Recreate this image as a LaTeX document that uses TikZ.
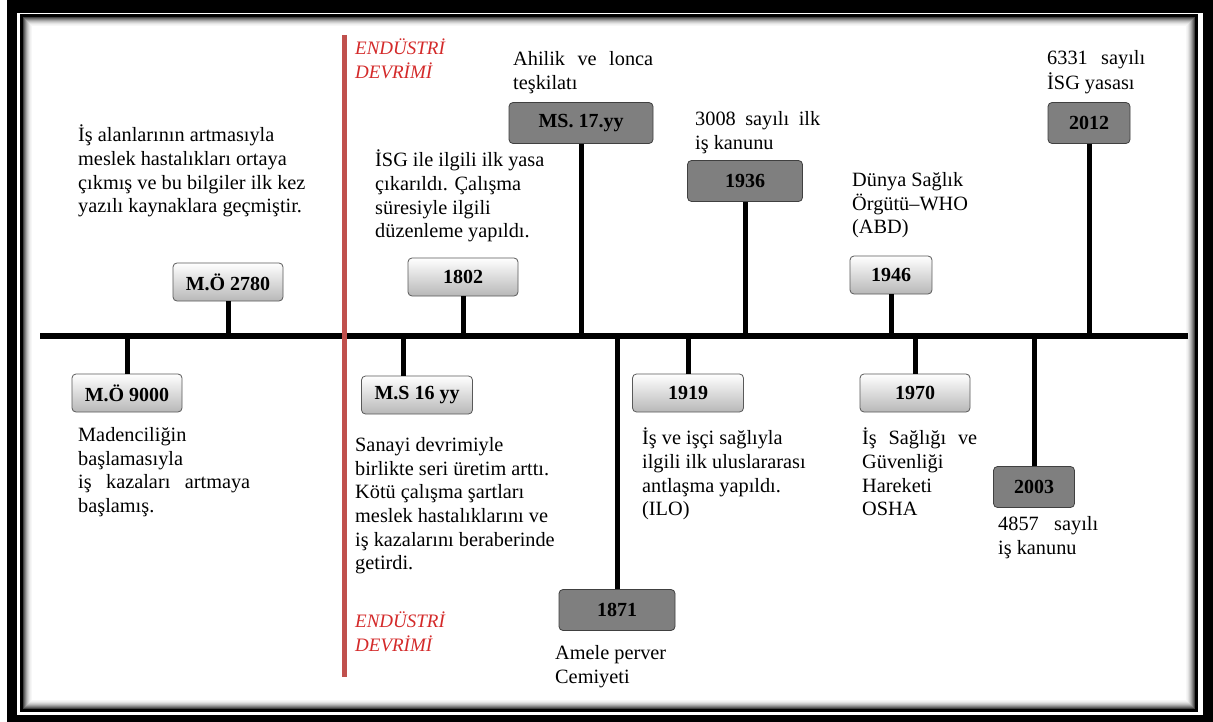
\documentclass[tikz,border=0pt]{standalone}
\usepackage{fontspec}
\setmainfont{Liberation Serif}
\usetikzlibrary{positioning}
\definecolor{devred}{HTML}{C0504D}
\definecolor{devtext}{HTML}{D42A2A}
\definecolor{darkbox}{HTML}{7F7F7F}
\definecolor{boxedge}{HTML}{595959}
\newcommand{\jl}[2]{\makebox[#1pt][s]{#2}}

\tikzset{
  yearbox/.style={rounded corners=4pt, draw=boxedge, line width=0.8pt,
    top color=white, bottom color=black!28, minimum height=38pt,
    inner sep=0pt, font=\fontsize{20}{23}\selectfont\bfseries},
  darkyear/.style={yearbox, top color=darkbox, bottom color=darkbox,
    draw=black!75, minimum height=41pt},
  note/.style={anchor=north west, align=left, inner sep=0pt,
    font=\fontsize{20.3}{23.6}\selectfont},
  devnote/.style={note, text=devtext, font=\fontsize{19}{23.5}\selectfont\itshape},
  stem/.style={line width=5pt},
}

\begin{document}
\begin{tikzpicture}[x=1pt, y=-1pt]
  \useasboundingbox (0,0) rectangle (1213,722);
  % frame with inner shadow
  \fill[black] (7,0) rectangle (1213,722);
  \fill[white] (17,13) rectangle (1203,715);
  \draw[line width=3pt] (21.5,15.5) rectangle (1196.5,710.5);
  \foreach \i/\g in {1/75, 2/60, 3/48, 4/36, 5/26, 6/18, 7/11, 8/6, 9/3}
    \draw[black!\g, line width=1.1pt] (22.5+\i,16.5+\i) rectangle (1195.5-\i,709.5-\i);

  % main time line
  \coordinate (tl0) at (40,336);
  \coordinate (tl1) at (1188,336);
  \draw[line width=6pt] (tl0) -- (tl1);

  % industrial revolution marker
  \coordinate (rv0) at (344,35);
  \coordinate (rv1) at (344,677);
  \draw[devred, line width=5pt] (rv0) -- (rv1);

  % year boxes
  \node[yearbox, minimum width=110pt] (b9000) at (127,393) {M.Ö 9000};
  \node[yearbox, minimum width=110pt] (b2780) at (228,282) {M.Ö 2780};
  \node[yearbox, minimum width=111pt] (b16)   at (417,395) {M.S 16 yy};
  \node[yearbox, minimum width=110pt] (b1802) at (463,277) {1802};
  \node[darkyear, minimum width=144pt] (b17)  at (581,123) {MS. 17.yy};
  \node[darkyear, minimum width=116pt] (b1871) at (617,610) {1871};
  \node[yearbox, minimum width=111pt] (b1919) at (688,393) {1919};
  \node[darkyear, minimum width=115pt] (b1936) at (745,181) {1936};
  \node[yearbox, minimum width=82pt]  (b1946) at (891,275) {1946};
  \node[yearbox, minimum width=110pt] (b1970) at (915,393) {1970};
  \node[darkyear, minimum width=81pt] (b2003) at (1034,487) {2003};
  \node[darkyear, minimum width=82pt] (b2012) at (1089,123) {2012};

  % stems to the time line
  \foreach \b in {b9000, b1919, b1970, b2003, b1871}
    \draw[stem] (\b.north) -- (\b.north |- tl0);
  \foreach \b in {b2780, b1802, b17, b1936, b1946, b2012}
    \draw[stem] (\b.south) -- (\b.south |- tl0);
  \draw[stem] ([xshift=-14pt]b16.north) -- ([xshift=-14pt]b16.north |- tl0);

  % notes
  \node[note] (n2780) at (78,125) {\strut İş alanlarının artmasıyla\\meslek hastalıkları ortaya\\çıkmış ve bu bilgiler ilk kez\\yazılı kaynaklara geçmiştir.};
  \node[note] (n9000) at (78,425) {\strut Madenciliğin\\başlamasıyla\\\jl{172}{iş kazaları artmaya}\\başlamış.};
  \node[devnote] (dev0) at (355,38) {\strut ENDÜSTRİ\\DEVRİMİ};
  \node[devnote] (dev1) at (355,611) {\strut ENDÜSTRİ\\DEVRİMİ};
  \node[note] (n17) at (513,49) {\strut\jl{140}{Ahilik ve lonca}\\teşkilatı};
  \node[note] (n1802) at (375,150) {\strut İSG ile ilgili ilk yasa\\çıkarıldı. Çalışma\\süresiyle ilgili\\düzenleme yapıldı.};
  \node[note] (n16) at (355,435) {\strut Sanayi devrimiyle\\birlikte seri üretim arttı.\\Kötü çalışma şartları\\meslek hastalıklarını ve\\iş kazalarını beraberinde\\getirdi.};
  \node[note] (n1871) at (555,643) {\strut Amele perver\\Cemiyeti};
  \node[note] (n1919) at (642,428) {\strut İş ve işçi sağlıyla\\ilgili ilk uluslararası\\antlaşma yapıldı.\\(ILO)};
  \node[note] (n1936) at (695,109) {\strut\jl{125}{3008 sayılı ilk}\\iş kanunu};
  \node[note] (n1946) at (852,170) {\strut Dünya Sağlık\\Örgütü–WHO\\(ABD)};
  \node[note] (n1970) at (862,428) {\strut\jl{115}{İş Sağlığı ve}\\Güvenliği\\Hareketi\\OSHA};
  \node[note] (n2003) at (998,514) {\strut\jl{100}{4857 sayılı}\\iş kanunu};
  \node[note] (n2012) at (1047,48) {\strut\jl{98}{6331 sayılı}\\İSG yasası};
\end{tikzpicture}
\end{document}
